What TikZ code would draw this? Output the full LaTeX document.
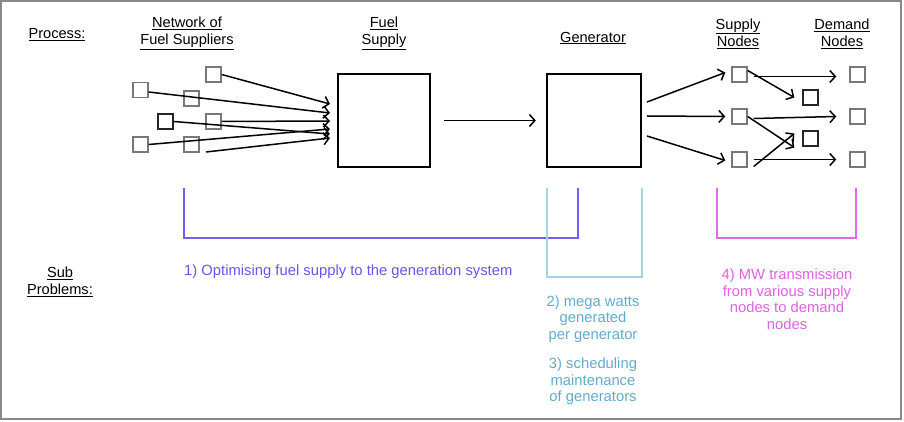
\documentclass[tikz,border=0pt]{standalone}
\usepackage{fontspec}
\setmainfont{Liberation Sans}
\usetikzlibrary{arrows.meta}
\definecolor{frame}{HTML}{888888}
\definecolor{boxgray}{HTML}{787878}
\definecolor{purp}{HTML}{6E52EE}
\definecolor{purpline}{HTML}{7A5CF5}
\definecolor{bluet}{HTML}{62AACD}
\definecolor{blueline}{HTML}{A6D3E3}
\definecolor{magt}{HTML}{DE62E4}
\definecolor{magline}{HTML}{E26AE6}
\tikzset{
  txt/.style={font=\fontsize{14.6}{17}\selectfont, align=center, inner sep=0pt},
  ctxt/.style={font=\fontsize{14.8}{16.5}\selectfont, align=center, inner sep=0pt},
  small/.style={draw=boxgray, line width=1.4pt, minimum size=15pt, inner sep=0pt},
  big/.style={draw=black, line width=2.2pt, minimum width=92pt, minimum height=93pt, inner sep=0pt},
  arr/.style={draw=black, line width=1.5pt, -{Straight Barb[length=5.5pt,width=12pt]}},
  brk/.style={line width=1.6pt},
}
\begin{document}
\begin{tikzpicture}[x=1pt,y=-1pt]
\useasboundingbox (0,0) rectangle (904,422);
\draw[frame, line width=2pt] (1,1) rectangle (901,419);

% headings
\node[txt] (hproc) at (57,35) {\underline{Process:}};
\node[txt] (hnet) at (187,33.5) {\underline{Network of}\\\underline{Fuel Suppliers}};
\node[txt] (hfuel) at (384,33.5) {\underline{Fuel}\\\underline{Supply}};
\node[txt] (hgen) at (593,38) {\underline{Generator}};
\node[txt] (hsup) at (738,33.5) {\underline{Supply}\\\underline{Nodes}};
\node[txt] (hdem) at (842,33.5) {\underline{Demand}\\\underline{Nodes}};
\node[txt] (hsub) at (60,282) {\underline{Sub}\\\underline{Problems:}};

% big boxes
\node[big] (fuel) at (384,120.5) {};
\node[big, minimum width=94pt] (gen) at (594,120.5) {};

% supplier boxes
\node[small] (A) at (213.5,74.5) {};
\node[small] (B) at (140.5,90) {};
\node[small] (C) at (191.5,98.5) {};
\node[small, draw=black!85] (D) at (165.5,121.5) {};
\node[small] (E) at (213.5,121.5) {};
\node[small] (F) at (140.5,144.5) {};
\node[small] (G) at (191.5,144.5) {};
\coordinate (gs) at (206,152);

\coordinate (fa) at (330,104);
\coordinate (fb) at (330,113);
\coordinate (fe) at (330,121);
\coordinate (fd) at (330,134);
\coordinate (ff) at (330,129);
\coordinate (fg) at (330,138);
\draw[arr] (A.east) -- (fa);
\draw[arr] ([yshift=-2pt]B.east) -- (fb);
\draw[arr] (E.east) -- (fe);
\draw[arr] (D.east) -- (fd);
\draw[arr] (F.east) -- (ff);
\draw[arr] (gs) -- (fg);

% main arrow
\draw[arr] ([xshift=13pt]fuel.east) -- ([xshift=-10pt]gen.west);

% supply / demand nodes
\node[small] (S1) at (739.5,74.5) {};
\node[small] (S2) at (739.5,116.5) {};
\node[small] (S3) at (739.5,159.5) {};
\node[small] (D1) at (857.5,74.5) {};
\node[small] (D2) at (857.5,116.5) {};
\node[small] (D3) at (857.5,159.5) {};
\node[small, draw=black!85] (M1) at (810.5,97.5) {};
\node[small, draw=black!85] (M2) at (810.5,138.5) {};

\coordinate (g1) at (647,102);
\coordinate (g2) at (647,116);
\coordinate (g3) at (647,136);
\draw[arr] (g1) -- ([xshift=-6pt,yshift=2pt]S1.west);
\draw[arr] (g2) -- ([xshift=-6pt]S2.west);
\draw[arr] (g3) -- ([xshift=-6pt,yshift=-1pt]S3.west);

\draw[arr] ([xshift=6pt,yshift=-2pt]S1.east) -- ([xshift=-13pt,yshift=-2pt]D1.west);
\draw[arr] ([yshift=4pt]S1.east) -- ([xshift=-8pt]M1.west);
\draw[arr] ([xshift=6pt,yshift=-2pt]S2.east) -- ([xshift=-13pt]D2.west);
\draw[arr] (S2.east) -- ([xshift=-8pt,yshift=-9pt]M2.west);
\draw[arr] ([xshift=6pt,yshift=-7pt]S3.east) -- ([xshift=-8pt,yshift=5pt]M2.west);
\draw[arr] ([xshift=6pt]S3.east) -- ([xshift=-13pt]D3.west);

% brackets
\draw[brk, purpline] (184,188) -- (184,238) -- (578,238) -- (578,188);
\draw[brk, blueline] (547,188) -- (547,277) -- (642,277) -- (642,188);
\draw[brk, magline] (717,188) -- (717,238) -- (856,238) -- (856,188);

% sub-problem texts
\node[ctxt, anchor=west, text=purp] (t1) at (184,272) {1) Optimising fuel supply to the generation system};
\node[ctxt, text=bluet] (t2) at (593,319) {2) mega watts\\generated\\per generator};
\node[ctxt, text=bluet] (t3) at (593,381.5) {3) scheduling\\maintenance\\of generators};
\node[ctxt, text=magt] (t4) at (787,299) {4) MW transmission\\from various supply\\nodes to demand\\nodes};
\end{tikzpicture}
\end{document}
